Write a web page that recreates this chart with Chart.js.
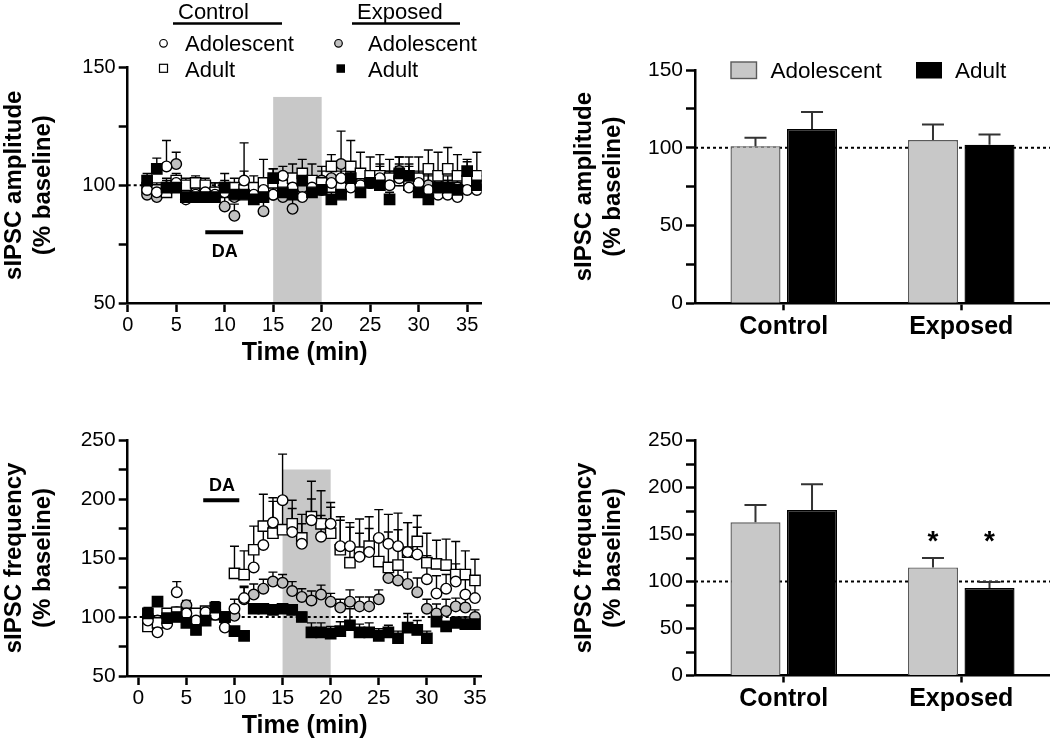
<!DOCTYPE html>
<html>
<head>
<meta charset="utf-8">
<script src="https://cdn.jsdelivr.net/npm/chart.js@4.4.0/dist/chart.umd.min.js"></script>
<style>
html, body { margin: 0; padding: 0; background: #fff; }
#wrap { position: relative; width: 1050px; height: 742px; }
canvas { position: absolute; left: 0; top: 0; }
</style>
</head>
<body>
<div id="wrap">
  <canvas id="amp_time" width="1050" height="742"></canvas>
  <canvas id="freq_time" width="1050" height="742"></canvas>
  <canvas id="amp_bar" width="1050" height="742"></canvas>
  <canvas id="freq_bar" width="1050" height="742"></canvas>
</div>
<script>
// time course, amplitude (t = 2..36 min)
var ampTimes = [2, 3, 4, 5, 6, 7, 8, 9, 10, 11, 12, 13, 14, 15, 16, 17, 18, 19, 20, 21, 22, 23, 24, 25, 26, 27, 28, 29, 30, 31, 32, 33, 34, 35, 36];
var ampCtrlAdol = [98, 97, 108, 101, 94, 96, 97, 96, 97, 95, 102, 96, 98, 96, 104, 99, 95, 99, 98, 101, 103, 99, 100, 101, 103, 100, 103, 99, 101, 98, 96, 96, 95, 98, 98];
var ampCtrlAdolErr = [3, 3, 11, 3, 3, 3, 3, 3, 8, 4, 16, 4, 4, 5, 4, 5, 6, 4, 5, 5, 5, 6, 5, 4, 5, 6, 5, 5, 5, 6, 7, 6, 6, 5, 6];
var ampCtrlAdult = [99, 98, 97, 102, 100, 101, 100, 97, 97, 99, 98, 99, 101, 101, 100, 103, 105, 102, 101, 108, 99, 108, 105, 104, 104, 103, 102, 100, 103, 107, 104, 107, 104, 102, 104];
var ampCtrlAdultErr = [3, 3, 4, 3, 3, 3, 3, 4, 4, 4, 4, 5, 10, 6, 5, 6, 6, 7, 7, 5, 7, 11, 9, 8, 9, 8, 10, 12, 9, 8, 10, 9, 9, 8, 10];
var ampExpAdol = [96, 95, 99, 109, 97, 97, 98, 97, 91, 87, 101, 96, 89, 96, 95, 90, 99, 99, 102, 103, 109, 102, 101, 101, 104, 101, 106, 104, 99, 100, 100, 99, 99, 99, 99];
var ampExpAdolErr = [3, 3, 4, 5, 3, 3, 3, 4, 4, 5, 5, 3, 4, 3, 4, 4, 4, 5, 4, 5, 14, 5, 4, 4, 5, 5, 6, 5, 5, 5, 4, 5, 5, 4, 5];
var ampExpAdult = [102, 107, 99, 99, 95, 95, 95, 95, 99, 96, 96, 94, 95, 103, 97, 96, 102, 97, 98, 94, 96, 103, 97, 101, 100, 94, 105, 104, 97, 94, 99, 99, 98, 106, 100];
var ampExpAdultErr = [3, 4.5, 3, 3, 2, 2, 2, 2, 3, 3, 3, 3, 3, 4, 4, 4, 4, 4, 4, 3, 4, 4, 4, 3, 3, 3, 4, 4, 3, 3, 3, 3, 3, 5, 4];

// time course, frequency (t = 1..35 min)
var freqTimes = [1, 2, 3, 4, 5, 6, 7, 8, 9, 10, 11, 12, 13, 14, 15, 16, 17, 18, 19, 20, 21, 22, 23, 24, 25, 26, 27, 28, 29, 30, 31, 32, 33, 34, 35];
var freqCtrlAdol = [97, 87, 94, 121, 103, 97, 104, 102, 91, 107, 116, 142, 161, 180, 199, 172, 162, 182, 168, 179, 160, 160, 151, 155, 167, 162, 160, 155, 153, 132, 120, 124, 130, 119, 116];
var freqCtrlAdolErr = [4, 4, 4, 9, 4, 4, 4, 4, 4, 8, 10, 12, 20, 18, 39, 20, 17, 18, 18, 14, 25, 20, 20, 20, 24, 25, 28, 25, 23, 20, 15, 12, 15, 14, 13];
var freqCtrlAdult = [92, 95, 103, 104, 103, 103, 105, 102, 100, 137, 136, 157, 177, 171, 174, 179, 167, 185, 179, 171, 157, 146, 155, 160, 147, 142, 144, 155, 164, 146, 145, 144, 136, 136, 131];
var freqCtrlAdultErr = [6, 5, 4, 4, 4, 4, 3, 3, 4, 23, 20, 20, 27, 30, 28, 20, 20, 30, 28, 26, 25, 30, 28, 25, 22, 30, 30, 25, 22, 25, 20, 22, 28, 20, 18];
var freqExpAdol = [101, 97, 100, 104, 110, 102, 103, 104, 98, 101, 115, 119, 124, 130, 129, 122, 117, 114, 119, 113, 108, 113, 109, 109, 115, 133, 131, 128, 121, 107, 103, 105, 109, 108, 100];
var freqExpAdolErr = [5, 4, 4, 4, 4, 4, 4, 4, 4, 5, 10, 9, 8, 8, 7, 8, 7, 8, 8, 7, 7, 10, 8, 8, 8, 8, 9, 10, 12, 8, 8, 10, 7, 8, 6];
var freqExpAdult = [103, 113, 99, 100, 95, 89, 97, 108, 100, 88, 84, 107, 107, 106, 107, 106, 100, 87, 87, 86, 88, 93, 87, 87, 84, 87, 82, 91, 89, 82, 96, 92, 95, 94, 94];
var freqExpAdultErr = [5, 3, 3, 3, 3, 3, 3, 5, 4, 3, 3, 3, 3, 4, 4, 4, 4, 8, 8, 6, 8, 14, 7, 8, 6, 6, 6, 12, 8, 6, 5, 4, 5, 6, 6];

var timeTicks = [0, 5, 10, 15, 20, 25, 30, 35];

// bar summaries
var groups = ['Control', 'Exposed'];
var ampBarAdol = [101, 105];
var ampBarAdolErr = [5.5, 10];
var ampBarAdult = [112, 102];
var ampBarAdultErr = [11, 6.5];
var freqBarAdol = [163, 115];
var freqBarAdolErr = [18.5, 10];
var freqBarAdult = [176, 93];
var freqBarAdultErr = [27.5, 6.5];

Chart.defaults.font.family = 'Arial, "Liberation Sans", Helvetica, sans-serif';
Chart.defaults.color = '#000';

function pts(xs, ys) {
  return xs.map(function (x, i) { return { x: x, y: ys[i] }; });
}

function ds(label, xs, ys, errs, style, fill, order) {
  return {
    label: label,
    data: pts(xs, ys),
    errors: errs,
    showLine: false,
    pointStyle: style,
    pointRadius: style == 'rect' ? 7.3 : 5.3,
    pointBackgroundColor: fill,
    pointBorderColor: '#000',
    pointBorderWidth: 1.4,
    order: order
  };
}

function axisStyle(size) {
  return {
    grid: { drawOnChartArea: false, tickLength: 9, tickColor: '#000', tickWidth: 2.5 },
    border: { color: '#000', width: 2.5 },
    ticks: { font: { size: size }, color: '#000', padding: 3, maxRotation: 0, autoSkip: false }
  };
}

function padFor(box, yW, xH) {
  return { left: box.left - yW, top: box.top, right: 1050 - box.right, bottom: 742 - box.bottom - xH };
}

// shading, DA bar, baseline, error bars, legends
function extras(cfg) {
  return {
    id: 'extras',
    beforeDraw: function (chart) {
      if (!cfg.band) return;
      var ctx = chart.ctx, x = chart.scales.x, y = chart.scales.y;
      var x0 = x.getPixelForValue(cfg.band[0]), x1 = x.getPixelForValue(cfg.band[1]);
      var top = y.getPixelForValue(cfg.band[2]);
      ctx.save();
      ctx.fillStyle = '#c8c8c8';
      ctx.fillRect(x0, top, x1 - x0, chart.chartArea.bottom - top);
      ctx.restore();
    },
    beforeDatasetsDraw: function (chart) {
      var ctx = chart.ctx, x = chart.scales.x, y = chart.scales.y, a = chart.chartArea;
      ctx.save();
      var yb = y.getPixelForValue(100);
      ctx.strokeStyle = '#000';
      ctx.lineWidth = 2;
      ctx.setLineDash([3, 3]);
      ctx.beginPath();
      ctx.moveTo(a.left, yb);
      ctx.lineTo(a.right, yb);
      ctx.stroke();
      ctx.setLineDash([]);
      if (cfg.da) {
        ctx.lineWidth = 4;
        ctx.beginPath();
        ctx.moveTo(x.getPixelForValue(cfg.da[0]), y.getPixelForValue(cfg.da[2]));
        ctx.lineTo(x.getPixelForValue(cfg.da[1]), y.getPixelForValue(cfg.da[2]));
        ctx.stroke();
        ctx.font = 'bold 18px Arial, "Liberation Sans", sans-serif';
        ctx.fillStyle = '#000';
        ctx.textAlign = 'center';
        ctx.textBaseline = 'alphabetic';
        ctx.fillText('DA', x.getPixelForValue(cfg.daText[0]), y.getPixelForValue(cfg.daText[1]));
      }
      if (cfg.scatter) {
        ctx.lineWidth = 1.4;
        chart.data.datasets.forEach(function (d, i) {
          var meta = chart.getDatasetMeta(i);
          meta.data.forEach(function (el, j) {
            var yt = y.getPixelForValue(d.data[j].y + d.errors[j]);
            ctx.beginPath();
            ctx.moveTo(el.x, el.y);
            ctx.lineTo(el.x, yt);
            ctx.moveTo(el.x - 4.5, yt);
            ctx.lineTo(el.x + 4.5, yt);
            ctx.stroke();
          });
        });
      }
      ctx.restore();
    },
    afterDatasetsDraw: function (chart) {
      if (cfg.scatter) return;
      var ctx = chart.ctx, y = chart.scales.y;
      ctx.save();
      ctx.strokeStyle = '#333';
      ctx.lineWidth = 2;
      chart.data.datasets.forEach(function (d, i) {
        chart.getDatasetMeta(i).data.forEach(function (el, j) {
          var yt = y.getPixelForValue(d.data[j] + d.errors[j]);
          ctx.beginPath();
          ctx.moveTo(el.x, el.y);
          ctx.lineTo(el.x, yt);
          ctx.moveTo(el.x - 11, yt);
          ctx.lineTo(el.x + 11, yt);
          ctx.stroke();
        });
      });
      if (cfg.stars) {
        ctx.fillStyle = '#000';
        ctx.font = 'bold 28px Arial, "Liberation Sans", sans-serif';
        ctx.textAlign = 'center';
        cfg.stars.forEach(function (s) {
          var el = chart.getDatasetMeta(s[0]).data[s[1]];
          ctx.fillText('*', el.x, y.getPixelForValue(s[2]));
        });
      }
      ctx.restore();
    },
    afterDraw: function (chart) {
      if (cfg.legend) cfg.legend(chart.ctx);
    }
  };
}

function timeLegend(ctx) {
  ctx.save();
  ctx.fillStyle = '#000';
  ctx.strokeStyle = '#000';
  ctx.font = '22px Arial, "Liberation Sans", sans-serif';
  ctx.textAlign = 'left';
  ctx.textBaseline = 'alphabetic';
  ctx.fillText('Control', 178, 18.5);
  ctx.fillText('Exposed', 357, 18.5);
  ctx.lineWidth = 2.5;
  ctx.beginPath();
  ctx.moveTo(173, 23.5); ctx.lineTo(282, 23.5);
  ctx.moveTo(352, 23.5); ctx.lineTo(460, 23.5);
  ctx.stroke();
  ctx.fillText('Adolescent', 185, 50.7);
  ctx.fillText('Adolescent', 368, 50.7);
  ctx.fillText('Adult', 185, 76.5);
  ctx.fillText('Adult', 368, 76.5);
  ctx.lineWidth = 1.2;
  ctx.beginPath(); ctx.arc(163.5, 43.3, 3.8, 0, 2 * Math.PI);
  ctx.fillStyle = '#fff'; ctx.fill(); ctx.stroke();
  ctx.beginPath(); ctx.arc(338.5, 43.3, 3.8, 0, 2 * Math.PI);
  ctx.fillStyle = '#c0c0c0'; ctx.fill(); ctx.stroke();
  ctx.fillStyle = '#fff';
  ctx.fillRect(159.5, 64.3, 8, 8); ctx.strokeRect(159.5, 64.3, 8, 8);
  ctx.fillStyle = '#000';
  ctx.fillRect(336.5, 64.3, 8.5, 8.5);
  ctx.restore();
}

function barLegend(ctx) {
  ctx.save();
  ctx.fillStyle = '#c8c8c8';
  ctx.fillRect(731, 62, 25.5, 16.5);
  ctx.strokeStyle = '#5a5a5a';
  ctx.lineWidth = 1.4;
  ctx.strokeRect(731, 62, 25.5, 16.5);
  ctx.fillStyle = '#000';
  ctx.fillRect(916, 62, 26, 16.5);
  ctx.font = '22.5px Arial, "Liberation Sans", sans-serif';
  ctx.textBaseline = 'alphabetic';
  ctx.fillText('Adolescent', 770.5, 78.3);
  ctx.fillText('Adult', 955, 78.3);
  ctx.restore();
}

function timeChart(id, c) {
  var xs = axisStyle(c.tickSize), ys = axisStyle(c.tickSize);
  xs.type = 'linear';
  xs.min = c.xMin;
  xs.max = c.xMax;
  xs.ticks.padding = 1;
  xs.afterBuildTicks = function (a) { a.ticks = timeTicks.map(function (v) { return { value: v }; }); };
  xs.afterFit = function (a) { a.height = 65; };
  xs.title = { display: true, text: 'Time (min)', font: { size: 25, weight: 'bold' }, color: '#000', padding: 0 };
  ys.min = c.yMin;
  ys.max = c.yMax;
  ys.ticks.stepSize = 25;
  ys.ticks.callback = function (v) { return v % 50 === 0 ? v : ''; };
  ys.afterFit = function (a) { a.width = 127.7; };
  ys.title = { display: true, text: c.yTitle, font: { size: 24, weight: 'bold' }, color: '#000', padding: 0 };

  return new Chart(document.getElementById(id), {
    type: 'scatter',
    data: {
      datasets: [
        ds('Exposed Adult', c.times, c.expAdult, c.expAdultErr, 'rect', '#000', 0),
        ds('Control Adolescent', c.times, c.ctrlAdol, c.ctrlAdolErr, 'circle', '#fff', 1),
        ds('Control Adult', c.times, c.ctrlAdult, c.ctrlAdultErr, 'rect', '#fff', 2),
        ds('Exposed Adolescent', c.times, c.expAdol, c.expAdolErr, 'circle', '#c0c0c0', 3)
      ]
    },
    options: {
      responsive: false,
      animation: false,
      events: [],
      layout: { autoPadding: false, padding: padFor(c.box, 127.7, 65) },
      plugins: { legend: { display: false }, tooltip: { enabled: false } },
      scales: { x: xs, y: ys }
    },
    plugins: [extras({ scatter: true, band: c.band, da: c.da, daText: c.daText, legend: c.legend })]
  });
}

function barChart(id, c) {
  var xs = axisStyle(25), ys = axisStyle(21);
  xs.type = 'category';
  xs.offset = true;
  xs.grid.offset = false;
  xs.grid.tickLength = 7;
  xs.ticks.font = { size: 25, weight: 'bold' };
  xs.ticks.padding = 2;
  xs.afterFit = function (a) { a.height = 45; };
  ys.min = 0;
  ys.max = c.yMax;
  ys.ticks.stepSize = 25;
  ys.ticks.callback = function (v) { return v % 50 === 0 ? v : ''; };
  ys.afterFit = function (a) { a.width = 125; };
  ys.title = { display: true, text: c.yTitle, font: { size: 24, weight: 'bold' }, color: '#000', padding: 0 };

  return new Chart(document.getElementById(id), {
    type: 'bar',
    data: {
      labels: groups,
      datasets: [
        { label: 'Adolescent', data: c.adol, errors: c.adolErr, backgroundColor: '#c8c8c8', borderColor: '#5a5a5a', borderWidth: 1.4 },
        { label: 'Adult', data: c.adult, errors: c.adultErr, backgroundColor: '#000', borderColor: '#000', borderWidth: 1.4 }
      ]
    },
    options: {
      responsive: false,
      animation: false,
      events: [],
      barPercentage: 0.885,
      categoryPercentage: 0.637,
      layout: { autoPadding: false, padding: padFor(c.box, 125, 45) },
      plugins: { legend: { display: false }, tooltip: { enabled: false } },
      scales: { x: xs, y: ys }
    },
    plugins: [extras({ scatter: false, stars: c.stars, legend: c.legend })]
  });
}

timeChart('amp_time', {
  times: ampTimes,
  ctrlAdol: ampCtrlAdol, ctrlAdolErr: ampCtrlAdolErr,
  ctrlAdult: ampCtrlAdult, ctrlAdultErr: ampCtrlAdultErr,
  expAdol: ampExpAdol, expAdolErr: ampExpAdolErr,
  expAdult: ampExpAdult, expAdultErr: ampExpAdultErr,
  box: { left: 127.7, top: 67.5, right: 481.7, bottom: 303 },
  xMin: 0, xMax: 36.5, yMin: 50, yMax: 150, tickSize: 20,
  yTitle: ['sIPSC amplitude', '(% baseline)'],
  band: [15, 20, 137.5],
  da: [8, 11.9, 80], daText: [10, 69.5],
  legend: timeLegend
});

timeChart('freq_time', {
  times: freqTimes,
  ctrlAdol: freqCtrlAdol, ctrlAdolErr: freqCtrlAdolErr,
  ctrlAdult: freqCtrlAdult, ctrlAdultErr: freqCtrlAdultErr,
  expAdol: freqExpAdol, expAdolErr: freqExpAdolErr,
  expAdult: freqExpAdult, expAdultErr: freqExpAdultErr,
  box: { left: 127.7, top: 440, right: 481.7, bottom: 676 },
  xMin: -1.1, xMax: 35.7, yMin: 50, yMax: 250, tickSize: 21,
  yTitle: ['sIPSC frequency', '(% baseline)'],
  band: [15, 20, 225],
  da: [6.75, 10.5, 199], daText: [8.7, 207]
});

barChart('amp_bar', {
  adol: ampBarAdol, adolErr: ampBarAdolErr, adult: ampBarAdult, adultErr: ampBarAdultErr,
  box: { left: 695, top: 70, right: 1050, bottom: 303.3 },
  yMax: 150,
  yTitle: ['sIPSC amplitude', '(% baseline)'],
  legend: barLegend
});

barChart('freq_bar', {
  adol: freqBarAdol, adolErr: freqBarAdolErr, adult: freqBarAdult, adultErr: freqBarAdultErr,
  box: { left: 695, top: 440.5, right: 1050, bottom: 675.5 },
  yMax: 250,
  yTitle: ['sIPSC frequency', '(% baseline)'],
  stars: [[0, 1, 134], [1, 1, 134]]
});
</script>
</body>
</html>
